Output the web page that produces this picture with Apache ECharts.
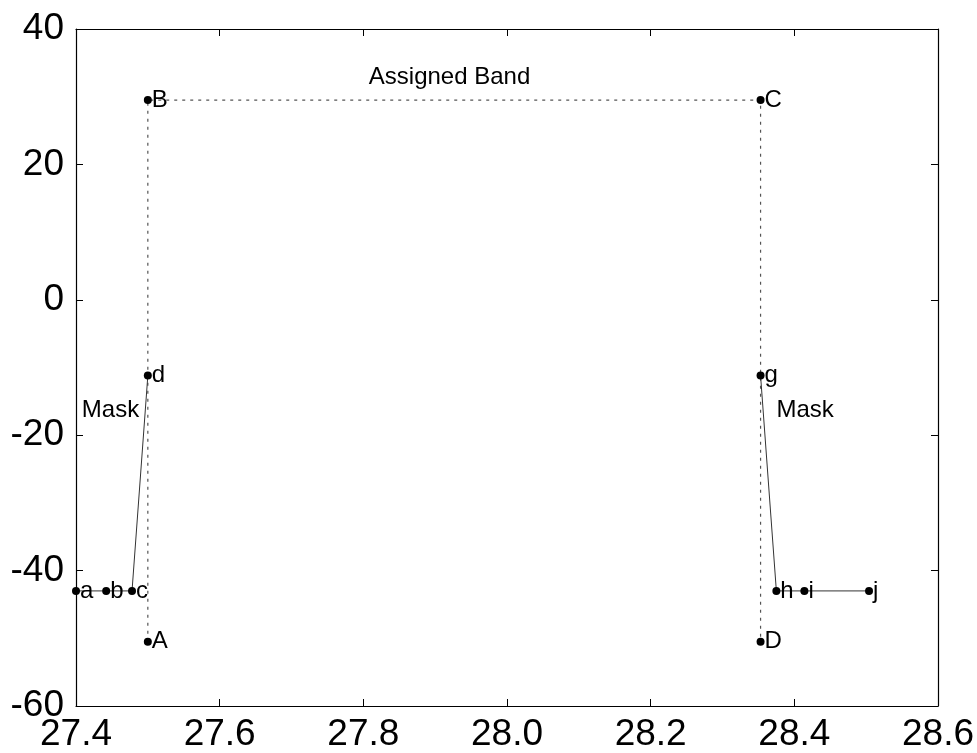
<!DOCTYPE html>
<html><head><meta charset="utf-8">
<script src="https://cdn.jsdelivr.net/npm/echarts@6/dist/echarts.min.js"></script>
<style>html,body{margin:0;padding:0;background:#fff}#c{width:977px;height:753px}</style>
</head><body><div id="c"></div>
<script>
const xTicks = [27.4, 27.6, 27.8, 28.0, 28.2, 28.4, 28.6];
const yTicks = [-60, -40, -20, 0, 20, 40];
const maskLeftX = [27.4, 27.442, 27.478, 27.5];
const maskLeftY = [-43, -43, -43, -11.2];
const maskLeftNames = ['a', 'b', 'c', 'd'];
const bandX = [27.5, 27.5, 28.353, 28.353];
const bandY = [-50.5, 29.5, 29.5, -50.5];
const bandNames = ['A', 'B', 'C', 'D'];
const maskRightX = [28.353, 28.375, 28.414, 28.504];
const maskRightY = [-11.2, -43, -43, -43];
const maskRightNames = ['g', 'h', 'i', 'j'];
const noteX = [27.92, 27.448, 28.415];
const noteY = [32.8, -16.4, -16.4];
const noteText = ['Assigned Band', 'Mask', 'Mask'];

const font = 'Liberation Sans, Arial, sans-serif';
const pts = (xs, ys, ns) => xs.map((x, i) => ({value: [x, ys[i]], name: ns[i]}));
const ptLabel = {show: true, position: 'right', distance: 0, formatter: p => p.name,
  color: '#000', fontSize: 24, fontFamily: font};

const chart = echarts.init(document.getElementById('c'));
const axisCommon = {
  axisLine: {show: true, onZero: false, lineStyle: {color: '#000', width: 1.2}},
  axisTick: {show: true, inside: true, length: 7, lineStyle: {color: '#000'}},
  splitLine: {show: false}
};
chart.setOption({
  animation: false,
  grid: {left: 76, right: 38, top: 29, bottom: 45, containLabel: false},
  xAxis: [
    Object.assign({type: 'value', min: 27.4, max: 28.6, interval: 0.2, position: 'bottom',
      axisLabel: {color: '#000', fontSize: 37, fontFamily: font, margin: 10,
        formatter: v => v.toFixed(1)}}, axisCommon),
    Object.assign({type: 'value', min: 27.4, max: 28.6, interval: 0.2, position: 'top',
      axisLabel: {show: false}}, axisCommon)
  ],
  yAxis: [
    Object.assign({type: 'value', min: -60, max: 40, interval: 20, position: 'left',
      axisLabel: {color: '#000', fontSize: 37, fontFamily: font, margin: 12}}, axisCommon),
    Object.assign({type: 'value', min: -60, max: 40, interval: 20, position: 'right',
      axisLabel: {show: false}}, axisCommon)
  ],
  series: [
    {type: 'line', data: pts(bandX, bandY, bandNames), clip: false,
      lineStyle: {color: '#555', width: 1.2, type: [3, 5]},
      symbol: 'circle', symbolSize: 8, itemStyle: {color: '#000'}, label: ptLabel},
    {type: 'line', data: pts(maskLeftX, maskLeftY, maskLeftNames), clip: false,
      lineStyle: {color: '#333', width: 1},
      symbol: 'circle', symbolSize: 8, itemStyle: {color: '#000'}, label: ptLabel},
    {type: 'line', data: pts(maskRightX, maskRightY, maskRightNames), clip: false,
      lineStyle: {color: '#333', width: 1},
      symbol: 'circle', symbolSize: 8, itemStyle: {color: '#000'}, label: ptLabel},
    {type: 'scatter', symbolSize: 0, clip: false, itemStyle: {opacity: 1, color: '#000'},
      data: noteX.map((x, i) => ({value: [x, noteY[i]], name: noteText[i]})),
      label: {show: true, position: 'inside', formatter: p => p.name, color: '#000',
        fontSize: 24, fontFamily: font}}
  ]
});
</script></body></html>
